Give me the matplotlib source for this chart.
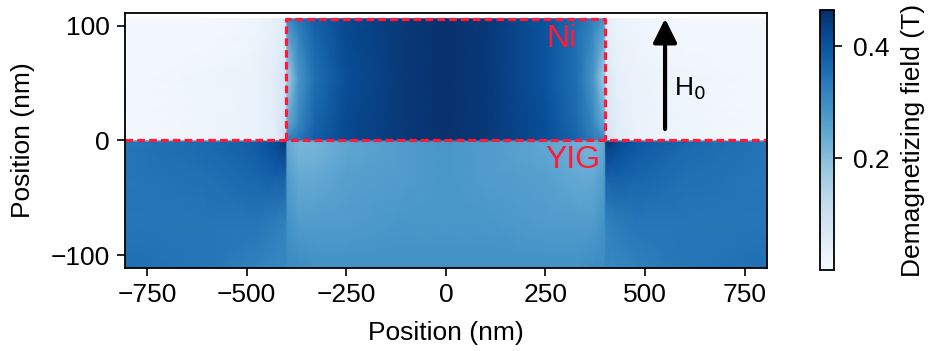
import numpy as np
import matplotlib
matplotlib.use("Agg")
import matplotlib.pyplot as plt

plt.rcParams['font.family'] = ['Liberation Sans', 'DejaVu Sans']
plt.rcParams['font.size'] = 19

x_nodes = [-805, -600, -480, -430, -402, -398, -370, -330, -250, -100, 0,
           100, 250, 330, 370, 398, 402, 430, 480, 600, 805]
y_nodes = [-111, -70, -30, -8, -1, 1, 15, 55, 95, 106]

# demagnetizing field (T), one row per y node, bottom to top
field = [
    [0.35, 0.34, 0.32, 0.31, 0.31, 0.30, 0.30, 0.29, 0.29, 0.29, 0.29,
     0.29, 0.29, 0.29, 0.30, 0.30, 0.31, 0.31, 0.32, 0.34, 0.35],
    [0.34, 0.34, 0.34, 0.33, 0.32, 0.29, 0.27, 0.27, 0.27, 0.28, 0.28,
     0.28, 0.27, 0.27, 0.27, 0.29, 0.32, 0.33, 0.34, 0.34, 0.34],
    [0.34, 0.35, 0.37, 0.38, 0.38, 0.27, 0.24, 0.24, 0.26, 0.27, 0.28,
     0.27, 0.26, 0.24, 0.24, 0.27, 0.38, 0.38, 0.37, 0.35, 0.34],
    [0.34, 0.36, 0.38, 0.41, 0.43, 0.25, 0.22, 0.22, 0.25, 0.27, 0.28,
     0.27, 0.25, 0.23, 0.22, 0.25, 0.43, 0.41, 0.39, 0.36, 0.34],
    [0.34, 0.36, 0.38, 0.41, 0.46, 0.24, 0.21, 0.22, 0.25, 0.27, 0.28,
     0.27, 0.25, 0.23, 0.22, 0.24, 0.46, 0.42, 0.39, 0.37, 0.34],
    [0.01, 0.02, 0.03, 0.05, 0.10, 0.32, 0.34, 0.38, 0.42, 0.45, 0.46,
     0.45, 0.41, 0.37, 0.33, 0.30, 0.09, 0.05, 0.03, 0.02, 0.01],
    [0.01, 0.02, 0.03, 0.05, 0.09, 0.24, 0.31, 0.37, 0.42, 0.45, 0.46,
     0.45, 0.41, 0.36, 0.31, 0.24, 0.08, 0.05, 0.03, 0.02, 0.01],
    [0.01, 0.02, 0.03, 0.05, 0.08, 0.16, 0.28, 0.35, 0.41, 0.45, 0.46,
     0.45, 0.40, 0.35, 0.28, 0.16, 0.07, 0.04, 0.03, 0.02, 0.01],
    [0.01, 0.01, 0.02, 0.04, 0.06, 0.26, 0.32, 0.37, 0.42, 0.45, 0.46,
     0.45, 0.40, 0.35, 0.31, 0.25, 0.05, 0.03, 0.02, 0.01, 0.01],
    [0.01, 0.01, 0.02, 0.04, 0.06, 0.30, 0.34, 0.38, 0.42, 0.45, 0.46,
     0.45, 0.40, 0.36, 0.32, 0.28, 0.05, 0.03, 0.02, 0.01, 0.01],
]

ni_left, ni_right, ni_top = -400, 400, 106
arrow_x, arrow_y0, arrow_y1 = 550, 10, 106

X, Y = np.meshgrid(x_nodes, y_nodes)
C = np.array(field)

fig = plt.figure(figsize=(9.3, 3.51), dpi=100)
ax = fig.add_axes([0.1344, 0.2365, 0.690, 0.7265])
cax = fig.add_axes([0.8817, 0.2308, 0.0151, 0.7407])

mesh = ax.pcolormesh(X, Y, C, shading='gouraud', cmap='Blues', vmin=0, vmax=0.465,
                     rasterized=True)

red = '#ff1a3a'
dash = dict(color=red, lw=2.3, linestyle=(0, (2.4, 1.3)))
ax.plot([x_nodes[0], x_nodes[-1]], [0, 0], **dash)
ax.plot([ni_left, ni_left, ni_right, ni_right], [0, ni_top, ni_top, 0], **dash)

ax.text(290, 88, 'Ni', color=red, fontsize=23, ha='center', va='center')
ax.text(319, -17, 'YIG', color=red, fontsize=23, ha='center', va='center')

ax.annotate('', xy=(arrow_x, arrow_y1), xytext=(arrow_x, arrow_y0),
            arrowprops=dict(arrowstyle='-|>', lw=3.0, color='black', mutation_scale=36,
                            shrinkA=0, shrinkB=0))
ax.text(arrow_x + 22, 45, r'H$_0$', fontsize=19, ha='left', va='center')

ax.set_xlim(-805, 805)
ax.set_ylim(-111, 111)
ax.set_xticks([-750, -500, -250, 0, 250, 500, 750])
ax.set_yticks([-100, 0, 100])
ax.set_xlabel('Position (nm)', labelpad=10)
ax.set_ylabel('Position (nm)', labelpad=11)
ax.tick_params(length=6, width=1.2, pad=5)
for s in ax.spines.values():
    s.set_linewidth(1.3)

cb = fig.colorbar(mesh, cax=cax)
cb.set_ticks([0.2, 0.4])
cb.set_label('Demagnetizing field (T)', labelpad=8)
cb.outline.set_linewidth(1.3)
cax.tick_params(length=6, width=1.2, pad=8)

fig.savefig('out.png', dpi=100)
